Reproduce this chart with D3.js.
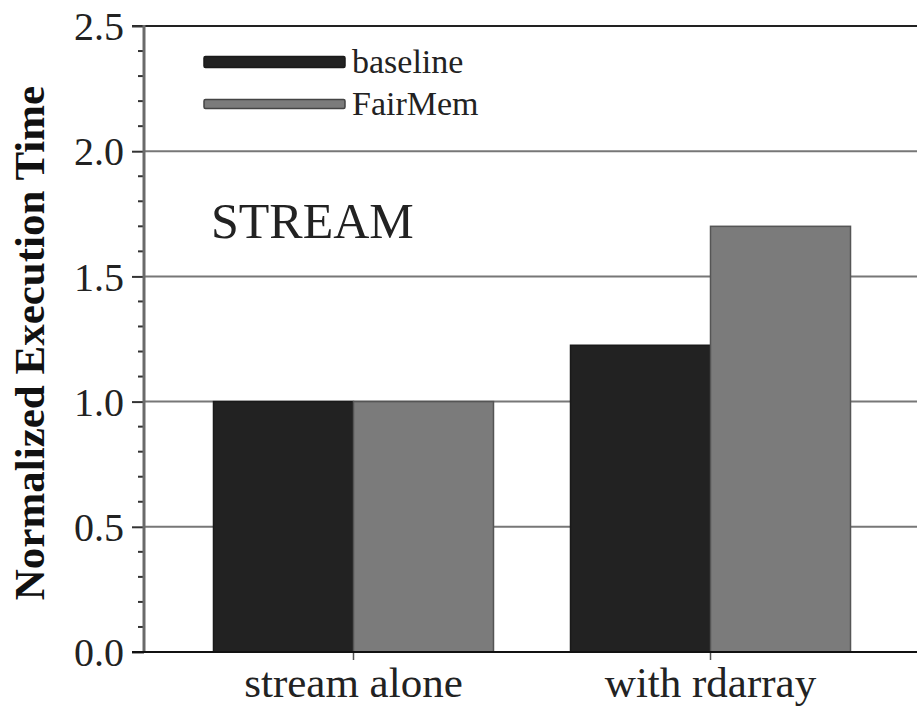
<!DOCTYPE html>
<html>
<head>
<meta charset="utf-8">
<script src="https://cdn.jsdelivr.net/npm/d3@7"></script>
<style>
  html, body { margin: 0; padding: 0; background: #fff; }
  svg { display: block; }
</style>
</head>
<body>
<svg id="chart" width="917" height="707"></svg>
<script>
// ---- data ----
const categories = ["stream alone", "with rdarray"];
const seriesNames = ["baseline", "FairMem"];
const baselineValues = [1.0, 1.225];
const fairMemValues = [1.0, 1.70];
const yTicks = [0.0, 0.5, 1.0, 1.5, 2.0, 2.5];
const yMinorTicks = d3.range(0, 2.5001, 0.1);
const annotation = "STREAM";
const yTitle = "Normalized Execution Time";

const colors = { baseline: "#222222", FairMem: "#7b7b7b" };
const SERIF = "'Liberation Serif', 'Times New Roman', Times, 'DejaVu Serif', serif";

const svg = d3.select("#chart");
const W = 917, H = 707;
const axisX = 144;

const y = d3.scaleLinear().domain([0, 2.5]).range([652, 26]);
const x = d3.scaleBand().domain(categories)
  .range([175.5, 888.5]).paddingInner(0.2157).paddingOuter(0.1064);
const xs = d3.scaleBand().domain(seriesNames).range([0, x.bandwidth()]);

// gridlines
svg.append("g").selectAll("line").data(yTicks.filter(d => d > 0 && d < 2.5)).join("line")
  .attr("x1", axisX).attr("x2", W)
  .attr("y1", d => y(d)).attr("y2", d => y(d))
  .attr("stroke", "#777").attr("stroke-width", 2);
// top frame line at 2.5
svg.append("line").attr("x1", axisX - 12).attr("x2", W)
  .attr("y1", y(2.5)).attr("y2", y(2.5))
  .attr("stroke", "#222").attr("stroke-width", 2);

// bars
const rows = categories.map((c, i) => ({ cat: c, vals: [
  { s: "baseline", v: baselineValues[i] },
  { s: "FairMem", v: fairMemValues[i] }
]}));
const gBars = svg.append("g");
rows.forEach(r => {
  gBars.selectAll(null).data(r.vals).join("rect")
    .attr("x", d => x(r.cat) + xs(d.s))
    .attr("y", d => y(d.v))
    .attr("width", xs.bandwidth())
    .attr("height", d => y(0) - y(d.v))
    .attr("fill", d => colors[d.s])
    .attr("stroke", d => d.s === "baseline" ? "#1a1a1a" : "#555")
    .attr("stroke-width", 1.5);
});

// y axis
const yAxisG = svg.append("g").attr("transform", `translate(${axisX},0)`);
yAxisG.call(d3.axisLeft(y).tickValues(yTicks).tickFormat(d3.format(".1f")).tickSize(12).tickPadding(8));
yAxisG.attr("font-family", SERIF);
yAxisG.select(".domain").remove();
yAxisG.selectAll(".tick line").attr("stroke", "#333").attr("stroke-width", 2);
yAxisG.selectAll(".tick text").attr("font-size", 40)
  .attr("font-family", SERIF).attr("fill", "#222").attr("dy", "0.34em");
// minor ticks
yAxisG.append("g").selectAll("line").data(yMinorTicks.filter(d => Math.round(d * 10) % 5 !== 0)).join("line")
  .attr("x1", -6).attr("x2", 0)
  .attr("y1", d => y(d)).attr("y2", d => y(d))
  .attr("stroke", "#333").attr("stroke-width", 2);
yAxisG.append("line").attr("x1", 0).attr("x2", 0)
  .attr("y1", y(0) + 1).attr("y2", y(2.5) - 1)
  .attr("stroke", "#6a6a6a").attr("stroke-width", 3);

// x axis
const xAxisG = svg.append("g").attr("transform", `translate(0,${y(0)})`);
xAxisG.call(d3.axisBottom(x).tickSize(8).tickPadding(6.5));
xAxisG.attr("font-family", SERIF);
xAxisG.select(".domain").remove();
xAxisG.selectAll(".tick line").attr("stroke", "#555").attr("stroke-width", 1.5);
xAxisG.selectAll(".tick text").attr("font-size", 43)
  .attr("font-family", SERIF).attr("fill", "#222");
xAxisG.append("line").attr("x1", axisX - 12).attr("x2", W).attr("y1", 0).attr("y2", 0)
  .attr("stroke", "#111").attr("stroke-width", 2);

// y title
svg.append("text")
  .attr("transform", `translate(44,${(78 + 608) / 2}) rotate(-90)`)
  .attr("text-anchor", "middle")
  .attr("font-family", SERIF)
  .attr("font-size", 43).attr("font-weight", "bold").attr("fill", "#111")
  .text(yTitle);

// annotation
svg.append("text").attr("x", 211).attr("y", 238)
  .attr("font-family", SERIF).attr("fill", "#222")
  .attr("font-size", 50).text(annotation);

// legend
const legend = svg.append("g");
const legendY = [62, 104];
seriesNames.forEach((s, i) => {
  legend.append("rect")
    .attr("x", 204).attr("y", legendY[i] - (i === 0 ? 5.5 : 4.5))
    .attr("width", 141).attr("height", i === 0 ? 11 : 9)
    .attr("fill", colors[s]).attr("stroke", i === 0 ? "#1a1a1a" : "#444").attr("stroke-width", 1.5)
    .attr("rx", 1.5);
  legend.append("text").attr("x", 352).attr("y", legendY[i] + 11)
    .attr("font-family", SERIF).attr("fill", "#222")
    .attr("font-size", 34).text(s);
});
</script>
</body>
</html>
